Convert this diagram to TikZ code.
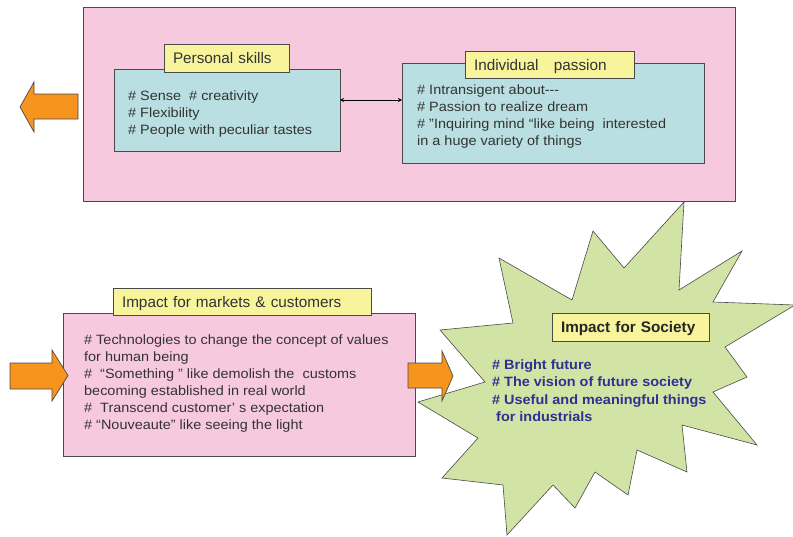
\documentclass[tikz,border=0pt]{standalone}
\usepackage{fontspec}
\setmainfont{Liberation Sans}
\newfontfamily\widesans{Liberation Sans}[FakeStretch=1.07]
\usetikzlibrary{arrows.meta}
\definecolor{boxpink}{HTML}{F7C9DF}
\definecolor{boxcyan}{HTML}{BADFE2}
\definecolor{titleyellow}{HTML}{F7F49C}
\definecolor{arroworange}{HTML}{F7941D}
\definecolor{burstgreen}{HTML}{D1E3A5}
\definecolor{textgray}{HTML}{333333}
\definecolor{bulletblue}{HTML}{2E3192}
\definecolor{framegray}{HTML}{4A4A4A}

\begin{document}
\begin{tikzpicture}[x=1pt,y=-1pt,
  panel/.style={draw=framegray, line width=0.7pt, inner sep=0pt, outer sep=0pt, anchor=north west},
  titlebox/.style={panel, fill=titleyellow, text=textgray, align=left,
    font=\fontsize{15.3}{17}\selectfont, text height=11pt, text depth=0pt, inner xsep=9pt},
  bodytext/.style={anchor=north west, inner sep=0pt, align=left, text=textgray,
    font=\widesans\fontsize{13.5}{17}\selectfont},
  blockarrow/.style={draw=framegray, line width=0.7pt, fill=arroworange, line join=miter},
  link/.style={draw=black, line width=0.6pt, {Stealth[length=4pt,width=4pt]}-{Stealth[length=4pt,width=4pt]}}
]
\useasboundingbox (0,0) rectangle (793,536);

% starburst for the society panel
\draw[draw=framegray, line width=0.6pt, fill=burstgreen, line join=miter]
  (684,202) -- (679,290) -- (742,251) -- (713,302) -- (795,305) -- (725,347)
  -- (747,377) -- (713,392) -- (757,445) -- (682,425) -- (687,472) -- (637,450)
  -- (628,495) -- (595,472) -- (575,508) -- (553,485) -- (507,535) -- (503,485)
  -- (442,478) -- (478,438) -- (418,402) -- (485,382) -- (440,330) -- (513,323)
  -- (499,258) -- (572,300) -- (593,231) -- (624,268) -- cycle;

% upper panel: personal skills and individual passion
\node[panel, fill=boxpink, minimum width=652pt, minimum height=194pt] (outer) at (83,7) {};
\node[panel, fill=boxcyan, minimum width=226pt, minimum height=82pt] (ps) at (114,69) {};
\node[panel, fill=boxcyan, minimum width=302pt, minimum height=100pt] (ip) at (402,63) {};
\node[titlebox, text width=107pt, minimum height=28pt] (pstitle) at (164,44) {Personal skills};
\node[titlebox, text width=151pt, minimum height=27pt] (iptitle) at (465,51) {Individual\ \ \ passion};
\node[bodytext] (pstext) at (128,90.5)
  {\# Sense\ \ \# creativity\\\# Flexibility\\\# People with peculiar tastes};
\node[bodytext] (iptext) at (417,84.5)
  {\# Intransigent about-{}-{}-\\\# Passion to realize dream\\\# ”Inquiring mind “like being\ \ interested\\in a huge variety of things};
\coordinate (linkrow) at (0,100);
\draw[link] (ps.east |- linkrow) -- (ip.west |- linkrow);

% lower panel: markets and customers
\node[panel, fill=boxpink, minimum width=352pt, minimum height=143pt] (mk) at (63,313) {};
\node[titlebox, text width=240pt, minimum height=27pt] (mktitle) at (113,288) {Impact for markets \& customers};
\node[bodytext] (mktext) at (84,334.5)
  {\# Technologies to change the concept of values\\for human being\\\#\ \ “Something ” like demolish the\ \ customs\\becoming established in real world\\\#\ \ Transcend customer’ s expectation\\\# “Nouveaute” like seeing the light};

% society panel texts
\node[titlebox, text width=139pt, minimum height=28pt, font=\fontsize{15.3}{17}\bfseries, text=black!85] (sctitle) at (552,313) {Impact for Society};
\node[bodytext, text=bulletblue, font=\widesans\fontsize{13.5}{17.3}\bfseries] (sctext) at (492,359.5)
  {\# Bright future\\\# The vision of future society\\\# Useful and meaningful things\\\ for industrials};

% block arrows
\draw[blockarrow] (78,94) -- (34,94) -- (34,82) -- (20,107) -- (34,132) -- (34,119) -- (78,119) -- cycle;
\draw[blockarrow] (10,363) -- (52,363) -- (52,350) -- (68,375.5) -- (52,401) -- (52,389) -- (10,389) -- cycle;
\draw[blockarrow] (408,363) -- (442,363) -- (442,351) -- (453,376) -- (442,401) -- (442,388) -- (408,388) -- cycle;
\end{tikzpicture}
\end{document}
